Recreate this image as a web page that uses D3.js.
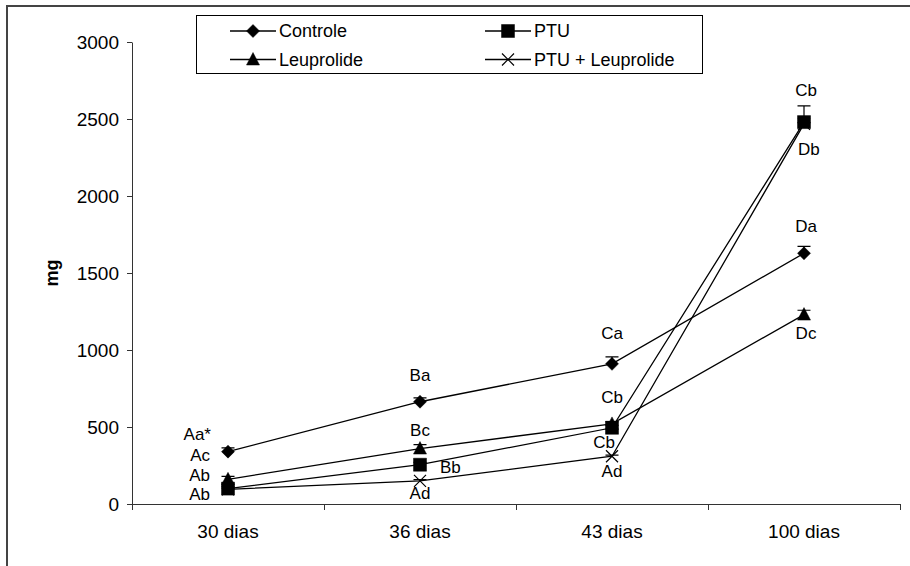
<!DOCTYPE html>
<html>
<head>
<meta charset="utf-8">
<script src="https://cdn.jsdelivr.net/npm/d3@7"></script>
<style>
  body { margin: 0; background: #fff; }
  text { font-family: Arial, "Liberation Sans", sans-serif; fill: #000; }
</style>
</head>
<body>
<div id="vis"></div>
<script>
// categories and series values (mg)
const categories = ['30 dias', '36 dias', '43 dias', '100 dias'];
const seriesNames = ['Controle', 'PTU', 'Leuprolide', 'PTU + Leuprolide'];
const controle = [340, 664, 910, 1628];
const ptu = [100, 255, 495, 2480];
const leuprolide = [160, 360, 520, 1230];
const ptuLeuprolide = [95, 150, 310, 2468];
// upper error bars
const controleErr = [25, 25, 45, 45];
const ptuErr = [15, 15, 15, 105];
const leuprolideErr = [20, 25, 15, 28];
const ptuLeuprolideErr = [8, 8, 8, 8];
// letters over the points
const controleLetters = ['Aa*', 'Ba', 'Ca', 'Da'];
const ptuLetters = ['Ab', 'Bb', 'Cb', 'Cb'];
const leuprolideLetters = ['Ac', 'Bc', 'Cb', 'Dc'];
const ptuLeuprolideLetters = ['Ab', 'Ad', 'Ad', 'Db'];
const yTicks = [0, 500, 1000, 1500, 2000, 2500, 3000];

const width = 910;
const height = 566;
const plot = { left: 132, right: 900, top: 42, bottom: 504 };
const font = 'Arial, "Liberation Sans", sans-serif';

const svg = d3.select('#vis')
    .append('svg')
    .attr('width', width)
    .attr('height', height);

// outer frame (runs off the right and bottom edges)
svg.append('rect')
    .attr('x', 7)
    .attr('y', 6)
    .attr('width', 1000)
    .attr('height', 700)
    .attr('fill', 'none')
    .attr('stroke', '#444')
    .attr('stroke-width', 2);

const x = d3.scaleBand()
    .domain(categories)
    .range([plot.left, plot.right]);

const y = d3.scaleLinear()
    .domain([0, 3000])
    .range([plot.bottom, plot.top]);

const cx = c => x(c) + x.bandwidth() / 2;

// y axis
svg.append('g')
    .attr('transform', `translate(${plot.left},0)`)
    .call(d3.axisLeft(y).tickValues(yTicks).tickFormat(d3.format('d')).tickSizeInner(5).tickSizeOuter(0).tickPadding(8))
    .call(g => g.selectAll('path, line').attr('stroke', '#333'))
    .call(g => g.selectAll('text').attr('font-size', 19).attr('font-family', font));

// x axis: ticks between categories, labels centred in each band
const xEdge = d3.scaleLinear().domain([0, categories.length]).range([plot.left, plot.right]);
svg.append('g')
    .attr('transform', `translate(0,${plot.bottom})`)
    .call(d3.axisBottom(xEdge).ticks(categories.length).tickFormat('').tickSizeInner(6).tickSizeOuter(6))
    .call(g => g.selectAll('path, line').attr('stroke', '#333'));

svg.append('g')
    .attr('transform', `translate(0,${plot.bottom})`)
    .call(d3.axisBottom(x).tickSize(0).tickPadding(21))
    .call(g => g.select('.domain').remove())
    .call(g => g.selectAll('text').attr('font-size', 19).attr('font-family', font));

svg.append('text')
    .attr('transform', `translate(52,${(plot.top + plot.bottom) / 2}) rotate(-90)`)
    .attr('text-anchor', 'middle')
    .attr('dy', '0.35em')
    .attr('font-size', 18)
    .attr('font-weight', 'bold')
    .text('mg');

// marker shapes
const markers = {
    diamond: 'M0,-6.5L6.5,0L0,6.5L-6.5,0Z',
    square: 'M-6.5,-6.5H6.5V6.5H-6.5Z',
    triangle: 'M0,-7L6.5,5.5H-6.5Z',
    cross: 'M-6,-6L6,6M-6,6L6,-6'
};

const series = [
    { name: seriesNames[0], values: controle, err: controleErr, letters: controleLetters, marker: 'diamond' },
    { name: seriesNames[1], values: ptu, err: ptuErr, letters: ptuLetters, marker: 'square' },
    { name: seriesNames[2], values: leuprolide, err: leuprolideErr, letters: leuprolideLetters, marker: 'triangle' },
    { name: seriesNames[3], values: ptuLeuprolide, err: ptuLeuprolideErr, letters: ptuLeuprolideLetters, marker: 'cross' }
];

function drawMarker(g, type) {
    g.append('path')
        .attr('d', markers[type])
        .attr('fill', type === 'cross' ? 'none' : '#000')
        .attr('stroke', '#000')
        .attr('stroke-width', type === 'cross' ? 1.2 : 0.5);
}

const line = d3.line()
    .x((d, i) => cx(categories[i]))
    .y(d => y(d));

series.forEach(s => {
    const g = svg.append('g');

    g.append('path')
        .datum(s.values)
        .attr('fill', 'none')
        .attr('stroke', '#000')
        .attr('stroke-width', 1.3)
        .attr('d', line);

    // error bars (upper only)
    s.values.forEach((v, i) => {
        const px = cx(categories[i]);
        g.append('path')
            .attr('d', `M${px},${y(v)}V${y(v + s.err[i])}M${px - 6.5},${y(v + s.err[i])}H${px + 6.5}`)
            .attr('stroke', '#000')
            .attr('stroke-width', 1.2)
            .attr('fill', 'none');
    });

    s.values.forEach((v, i) => {
        const m = g.append('g').attr('transform', `translate(${cx(categories[i])},${y(v)})`);
        drawMarker(m, s.marker);
    });
});

// letter placement per series and category: [dx, dy, anchor]
const letterPlace = [
    [[-17, -18, 'end'], [0, -27, 'middle'], [0, -31, 'middle'], [2, -27, 'middle']],
    [[-18, -14, 'end'], [20, 2, 'start'], [-8, 14, 'middle'], [2, -32, 'middle']],
    [[-18, -24, 'end'], [0, -19, 'middle'], [0, -27, 'middle'], [2, 18, 'middle']],
    [[-18, 5, 'end'], [0, 12, 'middle'], [0, 15, 'middle'], [-6, 25, 'start']]
];

series.forEach((s, si) => {
    s.letters.forEach((t, i) => {
        const [dx, dy, anchor] = letterPlace[si][i];
        svg.append('text')
            .attr('x', cx(categories[i]) + dx)
            .attr('y', y(s.values[i]) + dy)
            .attr('dy', '0.35em')
            .attr('text-anchor', anchor)
            .attr('font-size', 17)
            .text(t);
    });
});

// legend
const legend = svg.append('g');
legend.append('rect')
    .attr('x', 196.5)
    .attr('y', 15.5)
    .attr('width', 506)
    .attr('height', 58)
    .attr('fill', '#fff')
    .attr('stroke', '#000')
    .attr('stroke-width', 1);

series.forEach((s, k) => {
    const col = k % 2, row = Math.floor(k / 2);
    const lx = col === 0 ? 230 : 485;
    const ly = row === 0 ? 31 : 59.5;
    const item = legend.append('g').attr('transform', `translate(${lx},${ly})`);
    item.append('line')
        .attr('x1', 0).attr('x2', 46)
        .attr('stroke', '#000')
        .attr('stroke-width', 1.3);
    const m = item.append('g').attr('transform', 'translate(23,0)');
    drawMarker(m, s.marker);
    item.append('text')
        .attr('x', 49)
        .attr('dy', '0.35em')
        .attr('font-size', 18)
        .text(s.name);
});
</script>
</body>
</html>
